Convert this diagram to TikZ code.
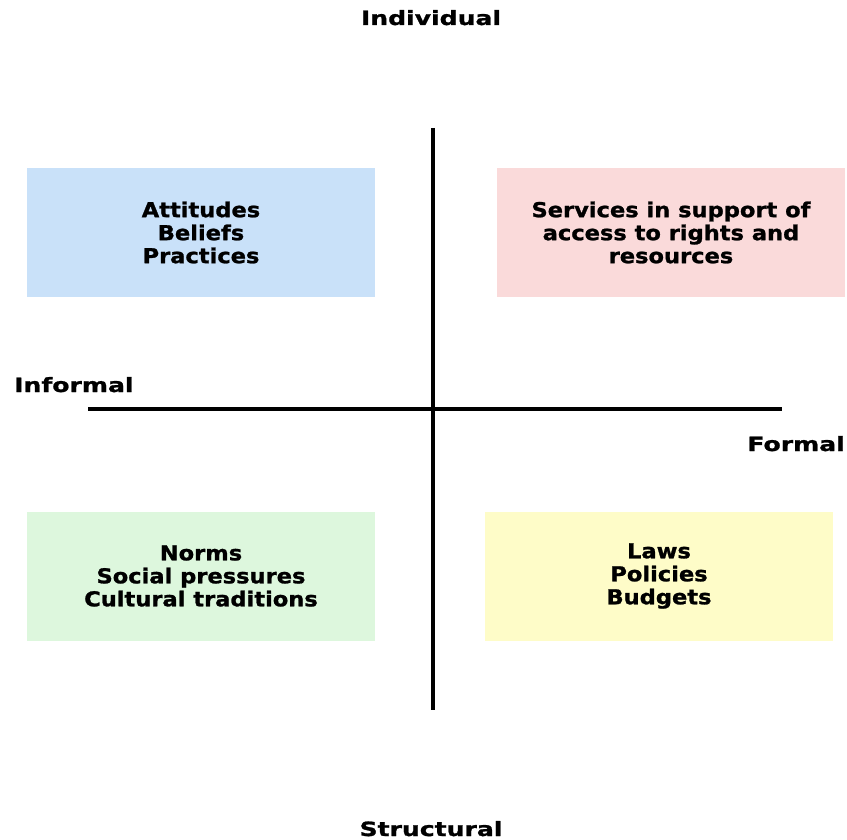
\documentclass[tikz,border=0pt]{standalone}
\usepackage{fontspec}
\setmainfont{DejaVu Sans}
\newfontfamily\quadfont[FakeStretch=1.1,BoldFeatures={FakeBold=1.2}]{DejaVu Sans}
\newfontfamily\axisfont[FakeStretch=1.28,BoldFeatures={FakeBold=1.2}]{DejaVu Sans}
\usetikzlibrary{positioning}
\definecolor{AttitudeBlue}{RGB}{201,225,249}
\definecolor{ServicePink}{RGB}{250,218,218}
\definecolor{NormGreen}{RGB}{221,247,221}
\definecolor{LawYellow}{RGB}{254,252,200}
\tikzset{
  quadrant/.style={
    fill=#1,
    minimum width=348pt,
    minimum height=129pt,
    inner sep=0pt,
    align=center,
    font=\quadfont\bfseries\fontsize{20.5}{23}\selectfont
  },
  axis label/.style={
    inner sep=0pt,
    font=\axisfont\bfseries\fontsize{19.6}{24}\selectfont
  },
  axis line/.style={
    line width=4pt,
  },
}

\begin{document}
\begin{tikzpicture}[x=1pt,y=-1pt]
    \useasboundingbox (0,0) rectangle (847,840);
    % the two axes
    \coordinate (top) at (433,128);
    \coordinate (bottom) at (433,710);
    \coordinate (left) at (88,409);
    \coordinate (right) at (782,409);
    \draw[axis line] (top) -- (bottom);
    \draw[axis line] (left) -- (right);
    % axis labels
    \node[axis label, anchor=base] (individual) at (431,25) {Individual};
    \node[axis label, anchor=base] (structural) at (431,836) {Structural};
    \node[axis label, anchor=base west] (informal) at (14,392) {Informal};
    \node[axis label, anchor=base east] (formal) at (845,451) {Formal};
    % quadrants
    \node[quadrant=AttitudeBlue] (attitudes) at (201,232.5)
      {Attitudes\\Beliefs\\Practices};
    \node[quadrant=ServicePink] (services) at (671,232.5)
      {Services in support of\\access to rights and\\resources};
    \node[quadrant=NormGreen] (norms) at (201,576)
      {Norms\\Social pressures\\Cultural traditions};
    \node[quadrant=LawYellow] (laws) at (659,576)
      {Laws\\Policies\\Budgets};
\end{tikzpicture}
\end{document}
